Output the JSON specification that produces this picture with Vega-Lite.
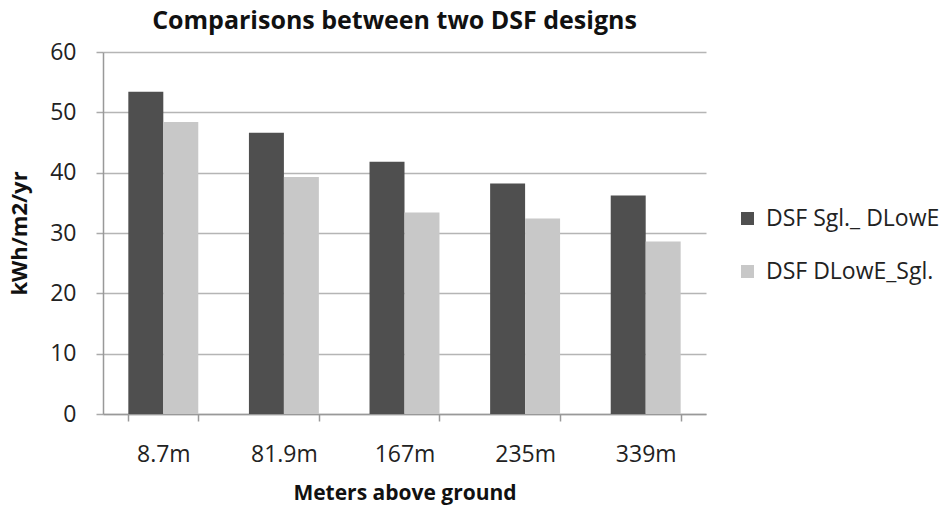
{
  "$schema": "https://vega.github.io/schema/vega-lite/v6.json",
  "autosize": {"type": "none"},
  "width": 603,
  "height": 362,
  "padding": {"left": 103, "top": 52, "right": 239, "bottom": 98},
  "background": "white",
  "config": {
    "font": "Open Sans",
    "view": {"stroke": null}
  },
  "title": {
    "text": "Comparisons between two DSF designs",
    "font": "Open Sans",
    "fontSize": 25,
    "fontWeight": "bold",
    "color": "#111111",
    "anchor": "middle",
    "dx": -10,
    "offset": 7
  },
  "data": {
    "values": [
      {"height": "8.7m", "design": "DSF Sgl._ DLowE", "kwh": 53.4},
      {"height": "8.7m", "design": "DSF DLowE_Sgl.", "kwh": 48.4},
      {"height": "81.9m", "design": "DSF Sgl._ DLowE", "kwh": 46.6},
      {"height": "81.9m", "design": "DSF DLowE_Sgl.", "kwh": 39.3},
      {"height": "167m", "design": "DSF Sgl._ DLowE", "kwh": 41.8},
      {"height": "167m", "design": "DSF DLowE_Sgl.", "kwh": 33.4},
      {"height": "235m", "design": "DSF Sgl._ DLowE", "kwh": 38.2},
      {"height": "235m", "design": "DSF DLowE_Sgl.", "kwh": 32.4},
      {"height": "339m", "design": "DSF Sgl._ DLowE", "kwh": 36.2},
      {"height": "339m", "design": "DSF DLowE_Sgl.", "kwh": 28.6}
    ]
  },
  "mark": {"type": "bar"},
  "encoding": {
    "x": {
      "field": "height",
      "type": "nominal",
      "sort": ["8.7m", "81.9m", "167m", "235m", "339m"],
      "scale": {"paddingInner": 0.42, "paddingOuter": 0.21},
      "axis": {
        "title": "Meters above ground",
        "titleFont": "Open Sans",
        "titleFontSize": 21,
        "titleFontWeight": "bold",
        "titleColor": "#111111",
        "titlePadding": 16,
        "labelFont": "Open Sans",
        "labelFontSize": 23,
        "labelColor": "#222222",
        "labelAngle": 0,
        "labelPadding": 22,
        "domainColor": "#999999",
        "domainWidth": 1.5,
        "tickColor": "#999999",
        "tickSize": 7,
        "tickWidth": 1.5,
        "tickBand": "extent",
        "grid": false
      }
    },
    "xOffset": {
      "field": "design",
      "type": "nominal",
      "sort": ["DSF Sgl._ DLowE", "DSF DLowE_Sgl."],
      "scale": {"paddingInner": 0, "paddingOuter": 0}
    },
    "y": {
      "field": "kwh",
      "type": "quantitative",
      "scale": {"domain": [0, 60], "nice": false},
      "axis": {
        "title": "kWh/m2/yr",
        "titleFont": "Open Sans",
        "titleFontSize": 22,
        "titleFontWeight": "bold",
        "titleColor": "#111111",
        "titlePadding": 18,
        "values": [0, 10, 20, 30, 40, 50, 60],
        "labelFont": "Open Sans",
        "labelFontSize": 23,
        "labelColor": "#222222",
        "labelPadding": 20,
        "domainColor": "#999999",
        "domainWidth": 1.5,
        "tickColor": "#aaaaaa",
        "tickSize": 7,
        "tickWidth": 1.5,
        "gridColor": "#b5b5b5",
        "gridWidth": 1.5
      }
    },
    "color": {
      "field": "design",
      "type": "nominal",
      "scale": {
        "domain": ["DSF Sgl._ DLowE", "DSF DLowE_Sgl."],
        "range": ["#4f4f4f", "#c8c8c8"]
      },
      "legend": {
        "title": null,
        "orient": "none",
        "legendX": 633,
        "legendY": 155,
        "symbolType": "square",
        "symbolSize": 169,
        "symbolStrokeWidth": 0,
        "labelFont": "Open Sans",
        "labelFontSize": 23,
        "labelColor": "#222222",
        "labelOffset": 7,
        "labelLimit": 400,
        "rowPadding": 29
      }
    }
  }
}
